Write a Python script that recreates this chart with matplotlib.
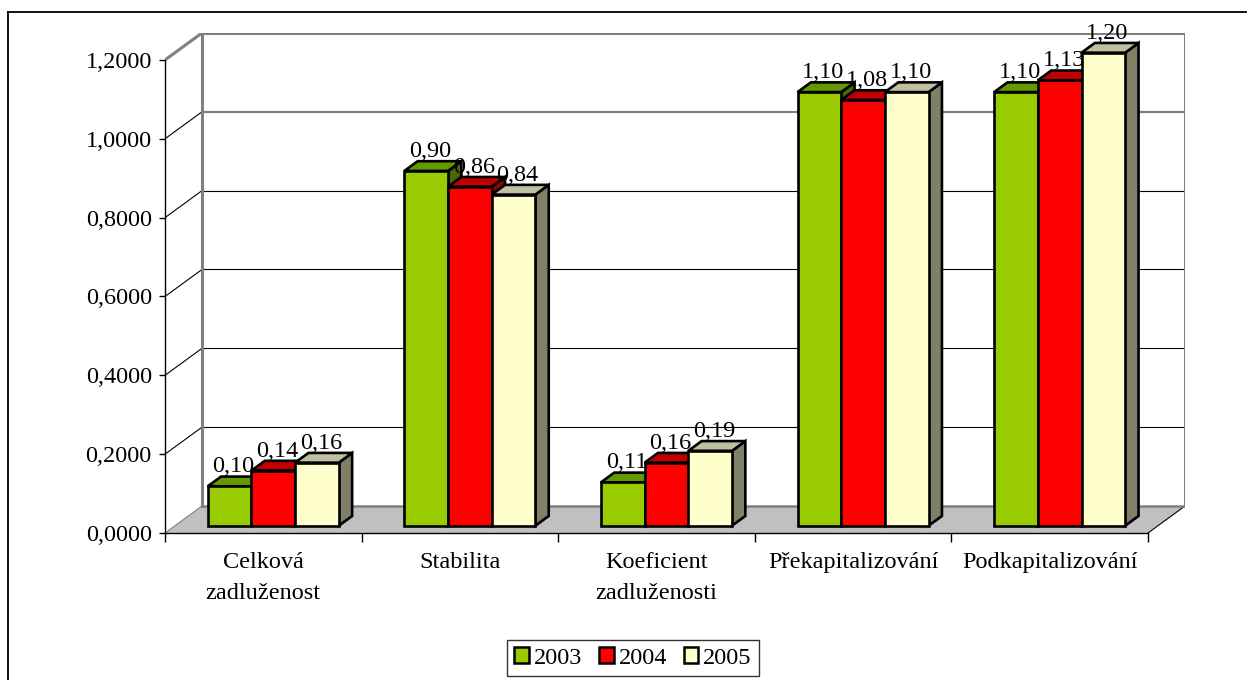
import matplotlib.pyplot as plt
from matplotlib.patches import Polygon, Patch
from matplotlib.lines import Line2D

plt.rcParams['font.family'] = ['Liberation Serif', 'DejaVu Serif']

categories = ['Celková\nzadluženost', 'Stabilita', 'Koeficient\nzadluženosti',
              'Překapitalizování', 'Podkapitalizování']
years = ['2003', '2004', '2005']
v2003 = [0.10, 0.90, 0.11, 1.10, 1.10]
v2004 = [0.14, 0.86, 0.16, 1.08, 1.13]
v2005 = [0.16, 0.84, 0.19, 1.10, 1.20]
y_ticks = [0.0, 0.2, 0.4, 0.6, 0.8, 1.0, 1.2]

# face colours: front, top, side
colors = [('#99CC00', '#669900', '#4D6600'),
          ('#FF0000', '#C00000', '#990000'),
          ('#FFFFCC', '#C0C0A0', '#808066')]

W, H, DPI = 1247, 680, 100
FS = 17.5
fig = plt.figure(figsize=(W / DPI, H / DPI), dpi=DPI)

# oblique depth vector (data units) for one full unit of depth
n = len(categories)
ymax = y_ticks[-1]
px_x = 196.6      # pixels per category
px_y = 394.2      # pixels per unit value
ddx = 37 / px_x
ddy = 27 / px_y

x0, y0 = 165, 533
ax = fig.add_axes([x0 / W, (H - y0) / H, (n + ddx) * px_x / W, (ymax + ddy) * px_y / H])
ax.set_xlim(0, n + ddx)
ax.set_ylim(0, ymax + ddy)


def p(x, y, d):
    return (x + d * ddx, y + d * ddy)


# floor
floor = Polygon([p(0, 0, 0), p(n, 0, 0), p(n, 0, 1), p(0, 0, 1)], closed=True,
                facecolor='#C0C0C0', edgecolor='none', zorder=1)
ax.add_patch(floor)
ax.plot(*zip(p(n, 0, 0), p(n, 0, 1)), color='black', lw=0.8, zorder=1.2)
ax.plot(*zip(p(0, 0, 0), p(0, 0, 1)), color='#808080', lw=0.8, zorder=1.2)

# grid on back wall and left wall
for v in y_ticks[1:-1]:
    c, lw = ('#808080', 1.6) if v == 1.0 else ('black', 0.8)
    ax.plot(*zip(p(0, v, 1), p(n, v, 1)), color=c, lw=lw, zorder=1.3)
    ax.plot(*zip(p(0, v, 0), p(0, v, 1)), color='black', lw=0.8, zorder=1.3)

# wall borders
wall = '#808080'
ax.plot(*zip(p(0, 0, 1), p(n, 0, 1)), color=wall, lw=1.8, zorder=1.4)
ax.plot(*zip(p(0, 0, 1), p(0, ymax, 1), p(n, ymax, 1), p(n, 0, 1)),
        color=wall, lw=2.2, zorder=1.4)
ax.plot(*zip(p(0, ymax, 0), p(0, ymax, 1)), color=wall, lw=2.2, zorder=1.4)

# bars
bw = 1 / 4.5
d0, d1 = 0.27, 0.63
for i in range(n):
    for j, vals in enumerate([v2003, v2004, v2005]):
        v = vals[i]
        xl = i + 0.75 * bw + j * bw
        xr = xl + bw
        front, top, side = colors[j]
        kw = dict(closed=True, edgecolor='black', lw=1.9, joinstyle='miter', zorder=3)
        ax.add_patch(Polygon([p(xr, 0, d0), p(xr, 0, d1), p(xr, v, d1), p(xr, v, d0)],
                             facecolor=side, **kw))
        ax.add_patch(Polygon([p(xl, v, d0), p(xr, v, d0), p(xr, v, d1), p(xl, v, d1)],
                             facecolor=top, **kw))
        ax.add_patch(Polygon([p(xl, 0, d0), p(xr, 0, d0), p(xr, v, d0), p(xl, v, d0)],
                             facecolor=front, **kw))
        lx, ly = p((xl + xr) / 2, v, d1)
        ax.annotate(f'{v:.2f}'.replace('.', ','), xy=((xl + xr) / 2, ly),
                    xytext=(10, 3), textcoords='offset points',
                    ha='center', va='baseline', fontsize=FS, zorder=5,
                    annotation_clip=False)

# axes
for s in ['top', 'right']:
    ax.spines[s].set_visible(False)
ax.spines['left'].set_bounds(0, ymax)
ax.spines['bottom'].set_bounds(0, n)
for s in ['left', 'bottom']:
    ax.spines[s].set_linewidth(1.0)
    ax.spines[s].set_zorder(2.5)
ax.set_yticks(y_ticks)
ax.set_yticklabels([f'{v:.4f}'.replace('.', ',') for v in y_ticks], fontsize=FS)
ax.set_xticks(range(n + 1))
ax.set_xticklabels([''] * (n + 1))
ax.tick_params(axis='y', direction='out', length=4.5, width=1, pad=5)
ax.tick_params(axis='x', direction='out', length=6.5, width=1)
ax.patch.set_alpha(0)

for i, name in enumerate(categories):
    ax.annotate(name, xy=(i + 0.5, 0), xytext=(0, -14), textcoords='offset points',
                ha='center', va='top', fontsize=FS, linespacing=1.6,
                annotation_clip=False)

handles = [Patch(facecolor=c[0], edgecolor='black', lw=1.8) for c in colors]
leg = fig.legend(handles, years, loc='center', bbox_to_anchor=(633 / W, 1 - 658 / H),
                 ncol=3, fontsize=FS, frameon=True, fancybox=False,
                 handlelength=0.6, handleheight=0.6, handletextpad=0.2,
                 columnspacing=0.7, borderpad=0.3)
leg.get_frame().set_edgecolor('black')
leg.get_frame().set_linewidth(1.0)

# chart area border
fig.add_artist(Line2D([8 / W, 1], [1 - 12 / H, 1 - 12 / H], color='black', lw=1.3))
fig.add_artist(Line2D([8 / W, 8 / W], [0, 1 - 12 / H], color='black', lw=1.3))

fig.savefig('out.png', dpi=DPI)
